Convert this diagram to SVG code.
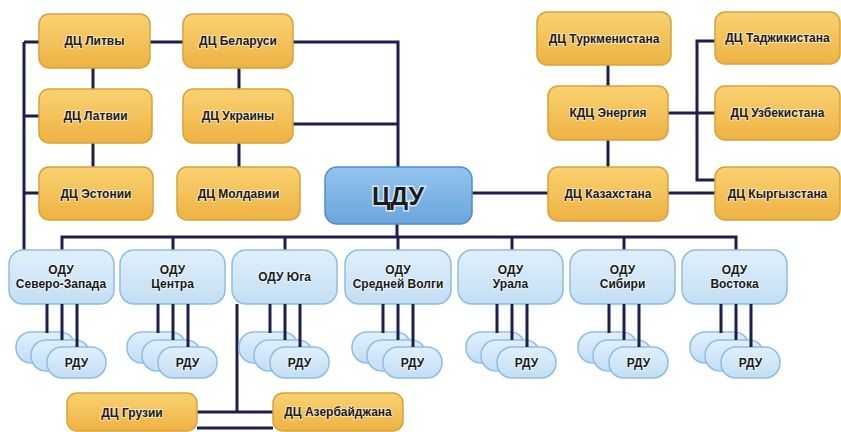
<svg xmlns="http://www.w3.org/2000/svg" width="841" height="432" viewBox="0 0 841 432">
  <defs>
    <linearGradient id="gOrange" x1="0" y1="0" x2="0" y2="1">
      <stop offset="0" stop-color="#F9D272"/>
      <stop offset="1" stop-color="#EEB243"/>
    </linearGradient>
    <linearGradient id="gBlue" x1="0" y1="0" x2="0" y2="1">
      <stop offset="0" stop-color="#E0F0FC"/>
      <stop offset="1" stop-color="#C2DEF3"/>
    </linearGradient>
    <linearGradient id="gMain" x1="0" y1="0" x2="0" y2="1">
      <stop offset="0" stop-color="#93C4EE"/>
      <stop offset="1" stop-color="#6AA5DC"/>
    </linearGradient>
    <style>
      .dc { fill: url(#gOrange); stroke: #D8A23A; stroke-width: 1.5; }
      .odu { fill: url(#gBlue); stroke: #8EBEE2; stroke-width: 1.5; }
      .rdu { fill: url(#gBlue); stroke: #8EBEE2; stroke-width: 1.5; }
      .main { fill: url(#gMain); stroke: #4F8DCA; stroke-width: 1.5; }
      .t { font-family: "Liberation Sans", Arial, sans-serif; font-weight: bold; font-size: 12px; fill: #1B1B1B; text-anchor: middle; dominant-baseline: central; stroke: #FFFFFF; stroke-width: 2; stroke-opacity: 0.55; paint-order: stroke; }
      .big { font-size: 25px; stroke-width: 3; stroke-opacity: 0.7; }
      .ln { fill: none; stroke: #1E1E4E; stroke-width: 3; }
    </style>
    <!-- three stacked regional cards, placed by the x of their middle feed line -->
    <g id="rduStack">
      <rect class="rdu" x="-46" y="332" width="59" height="31" rx="15"/>
      <rect class="rdu" x="-31" y="340" width="59" height="31" rx="15"/>
      <rect class="rdu" x="-15" y="347" width="59" height="31" rx="15"/>
      <text class="t" x="14.5" y="362.5">РДУ</text>
    </g>
  </defs>
  <rect width="841" height="432" fill="#FFFFFF"/>

  <!-- connectors -->
  <g id="connectors" class="ln">
    <!-- Baltic trunk -->
    <path d="M24,42 V250"/>
    <path d="M24,42 H39 M24,116 H39 M24,193 H39"/>
    <path d="M150,42 H183"/>
    <path d="M93,68 V89 M93,143 V167"/>
    <path d="M239,68 V89 M239,143 V167"/>
    <path d="M293,42 H398 V167"/>
    <path d="M293,124 H398"/>
    <!-- central bus -->
    <path d="M397,224 V237"/>
    <path d="M62,250 V237 H736 V250"/>
    <path d="M173,237 V250 M285,237 V250 M398,237 V250 M512,237 V250 M624,237 V250"/>
    <!-- Central Asia -->
    <path d="M472,193 H548"/>
    <path d="M608,65 V86 M608,140 V167"/>
    <path d="M668,113 H715"/>
    <path d="M715,41 H697 V180 H715"/>
    <path d="M668,193 H715"/>
    <!-- Transcaucasus -->
    <path d="M237,304 V412"/>
    <path d="M197,412 H273"/>
    <path d="M197,428 H273"/>
  </g>

  <!-- dispatch centres -->
  <g id="dc-litva"><rect class="dc" x="39" y="14" width="111" height="54" rx="10"/><text class="t" x="94.5" y="41">ДЦ Литвы</text></g>
  <g id="dc-belarus"><rect class="dc" x="183" y="14" width="110" height="54" rx="10"/><text class="t" x="238" y="41">ДЦ Беларуси</text></g>
  <g id="dc-latvia"><rect class="dc" x="39" y="89" width="113" height="54" rx="10"/><text class="t" x="95.5" y="116">ДЦ Латвии</text></g>
  <g id="dc-ukraine"><rect class="dc" x="183" y="89" width="110" height="54" rx="10"/><text class="t" x="238" y="116">ДЦ Украины</text></g>
  <g id="dc-estonia"><rect class="dc" x="39" y="167" width="114" height="53" rx="10"/><text class="t" x="96" y="193.5">ДЦ Эстонии</text></g>
  <g id="dc-moldova"><rect class="dc" x="177" y="167" width="123" height="53" rx="10"/><text class="t" x="238.5" y="193.5">ДЦ Молдавии</text></g>
  <g id="dc-turkmenistan"><rect class="dc" x="537" y="12" width="134" height="53" rx="10"/><text class="t" x="604" y="38.5">ДЦ Туркменистана</text></g>
  <g id="kdc-energia"><rect class="dc" x="548" y="86" width="120" height="54" rx="10"/><text class="t" x="608" y="113">КДЦ Энергия</text></g>
  <g id="dc-kazakhstan"><rect class="dc" x="548" y="167" width="120" height="54" rx="10"/><text class="t" x="608" y="194">ДЦ Казахстана</text></g>
  <g id="dc-tajikistan"><rect class="dc" x="715" y="12" width="125" height="52" rx="10"/><text class="t" x="777.5" y="38">ДЦ Таджикистана</text></g>
  <g id="dc-uzbekistan"><rect class="dc" x="715" y="86" width="125" height="54" rx="10"/><text class="t" x="777.5" y="113">ДЦ Узбекистана</text></g>
  <g id="dc-kyrgyzstan"><rect class="dc" x="715" y="167" width="125" height="53" rx="10"/><text class="t" x="777.5" y="193.5">ДЦ Кыргызстана</text></g>
  <g id="dc-georgia"><rect class="dc" x="67" y="393" width="130" height="38" rx="10"/><text class="t" x="132" y="413">ДЦ Грузии</text></g>
  <g id="dc-azerbaijan"><rect class="dc" x="273" y="393" width="130" height="38" rx="10"/><text class="t" x="338" y="412">ДЦ Азербайджана</text></g>

  <!-- central dispatch -->
  <g id="cdu"><rect class="main" x="325" y="167" width="147" height="57" rx="12"/><text class="t big" x="398" y="196">ЦДУ</text></g>

  <!-- united dispatch offices -->
  <g id="odu-nw"><rect class="odu" x="9" y="250" width="105" height="54" rx="14"/><text class="t" x="61" y="270">ОДУ</text><text class="t" x="61" y="284">Северо-Запада</text></g>
  <g id="odu-center"><rect class="odu" x="120" y="250" width="105" height="54" rx="14"/><text class="t" x="172.5" y="270">ОДУ</text><text class="t" x="172.5" y="284">Центра</text></g>
  <g id="odu-south"><rect class="odu" x="232" y="250" width="105" height="54" rx="14"/><text class="t" x="284.5" y="277">ОДУ Юга</text></g>
  <g id="odu-volga"><rect class="odu" x="345" y="250" width="106" height="54" rx="14"/><text class="t" x="398" y="270">ОДУ</text><text class="t" x="398" y="284">Средней Волги</text></g>
  <g id="odu-ural"><rect class="odu" x="458" y="250" width="105" height="54" rx="14"/><text class="t" x="510.5" y="270">ОДУ</text><text class="t" x="510.5" y="284">Урала</text></g>
  <g id="odu-siberia"><rect class="odu" x="570" y="250" width="105" height="54" rx="14"/><text class="t" x="622.5" y="270">ОДУ</text><text class="t" x="622.5" y="284">Сибири</text></g>
  <g id="odu-east"><rect class="odu" x="682" y="250" width="105" height="54" rx="14"/><text class="t" x="734.5" y="270">ОДУ</text><text class="t" x="734.5" y="284">Востока</text></g>

  <!-- regional dispatch offices -->
  <g id="rdu-nw"><use href="#rduStack" x="62"/></g>
  <g id="rdu-center"><use href="#rduStack" x="173"/></g>
  <g id="rdu-south"><use href="#rduStack" x="285"/></g>
  <g id="rdu-volga"><use href="#rduStack" x="398"/></g>
  <g id="rdu-ural"><use href="#rduStack" x="512"/></g>
  <g id="rdu-siberia"><use href="#rduStack" x="624"/></g>
  <g id="rdu-east"><use href="#rduStack" x="736"/></g>

  <!-- feed lines from each ODU to its regional cards, drawn over the stacks -->
  <g id="rdu-feeds" class="ln">
    <path d="M47,304 V333 M62,304 V340 M77,304 V347"/>
    <path d="M158,304 V333 M173,304 V340 M188,304 V347"/>
    <path d="M270,304 V333 M285,304 V340 M300,304 V347"/>
    <path d="M383,304 V333 M398,304 V340 M413,304 V347"/>
    <path d="M497,304 V333 M512,304 V340 M527,304 V347"/>
    <path d="M609,304 V333 M624,304 V340 M639,304 V347"/>
    <path d="M721,304 V333 M736,304 V340 M751,304 V347"/>
  </g>
</svg>
